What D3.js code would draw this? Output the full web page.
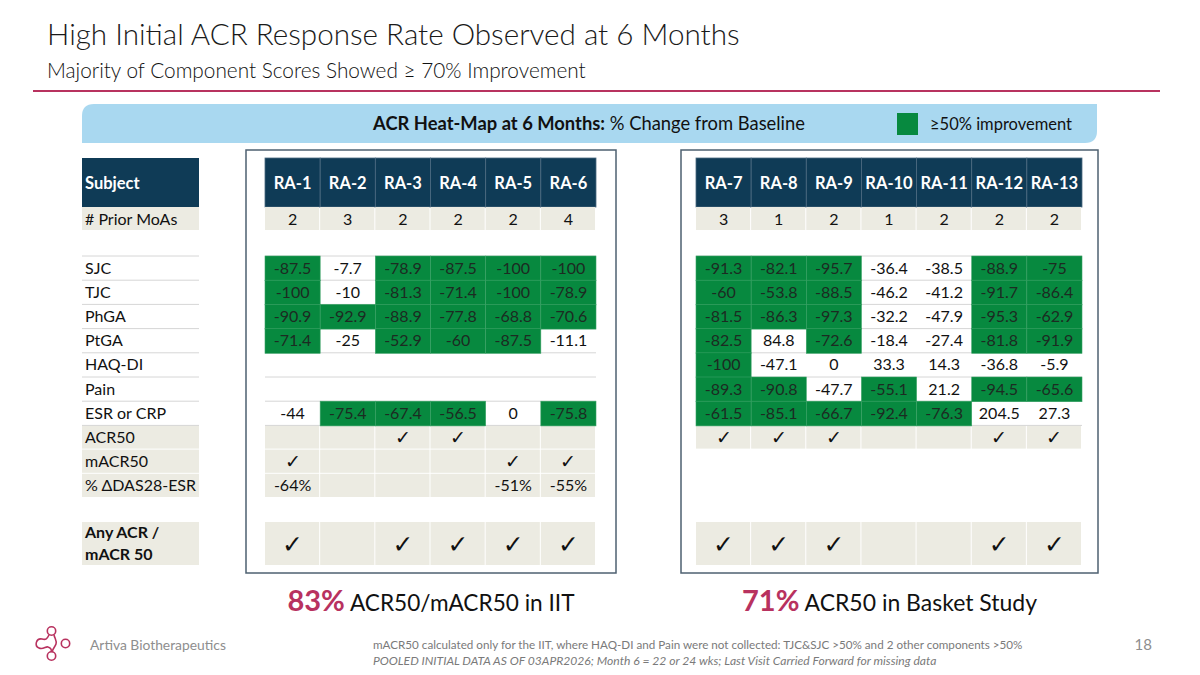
<!DOCTYPE html>
<html>
<head>
<meta charset="utf-8">
<script src="https://cdn.jsdelivr.net/npm/d3@7/dist/d3.min.js"></script>
<style>
  body { margin: 0; background: #fff; }
  svg { display: block; font-family: Lato, "Open Sans", sans-serif; }
</style>
</head>
<body>
<div id="chart"></div>
<script>
// ---- data ----
var subjectsIIT = ["RA-1", "RA-2", "RA-3", "RA-4", "RA-5", "RA-6"];
var subjectsBasket = ["RA-7", "RA-8", "RA-9", "RA-10", "RA-11", "RA-12", "RA-13"];
var priorIIT = [2, 3, 2, 2, 2, 4];
var priorBasket = [3, 1, 2, 1, 2, 2, 2];

var components = ["SJC", "TJC", "PhGA", "PtGA", "HAQ-DI", "Pain", "ESR or CRP"];

// % change from baseline, one row per component (null = not collected)
var changeIIT = [
    [-87.5, -7.7, -78.9, -87.5, -100, -100],
    [-100, -10, -81.3, -71.4, -100, -78.9],
    [-90.9, -92.9, -88.9, -77.8, -68.8, -70.6],
    [-71.4, -25, -52.9, -60, -87.5, -11.1],
    [null, null, null, null, null, null],
    [null, null, null, null, null, null],
    [-44, -75.4, -67.4, -56.5, 0, -75.8]
];
var changeBasket = [
    [-91.3, -82.1, -95.7, -36.4, -38.5, -88.9, -75],
    [-60, -53.8, -88.5, -46.2, -41.2, -91.7, -86.4],
    [-81.5, -86.3, -97.3, -32.2, -47.9, -95.3, -62.9],
    [-82.5, 84.8, -72.6, -18.4, -27.4, -81.8, -91.9],
    [-100, -47.1, 0, 33.3, 14.3, -36.8, -5.9],
    [-89.3, -90.8, -47.7, -55.1, 21.2, -94.5, -65.6],
    [-61.5, -85.1, -66.7, -92.4, -76.3, 204.5, 27.3]
];

var acr50IIT = [0, 0, 1, 1, 0, 0];
var macr50IIT = [1, 0, 0, 0, 1, 1];
var dasIIT = ["-64%", "", "", "", "-51%", "-55%"];
var anyIIT = [1, 0, 1, 1, 1, 1];

var acr50Basket = [1, 1, 1, 0, 0, 1, 1];
var anyBasket = [1, 1, 1, 0, 0, 1, 1];

var improvementCut = -50;

// ---- page ----
var width = 1200, height = 675;
var navy = "#0f3b56", beige = "#ecebe2", green = "#07893f", rose = "#b8325f";
var cellFont = 16;

var svg = d3.select("#chart").append("svg")
    .attr("width", width)
    .attr("height", height);

// scale a text's font size so it spans a given width
function fitWidth(sel, w) {
    var cur = sel.node().getComputedTextLength();
    var fs = parseFloat(sel.attr("font-size"));
    sel.attr("font-size", (fs * w / cur).toFixed(2));
}

// title block
var title = svg.append("text")
    .attr("x", 47).attr("y", 45)
    .attr("font-size", 30).attr("font-weight", 300)
    .attr("fill", "#1a1a1a")
    .text("High Initial ACR Response Rate Observed at 6 Months");
fitWidth(title, 693);

var subtitle = svg.append("text")
    .attr("x", 47).attr("y", 78)
    .attr("font-size", 20).attr("font-weight", 300)
    .attr("fill", "#111")
    .text("Majority of Component Scores Showed \u2265 70% Improvement");
fitWidth(subtitle, 539);

svg.append("line")
    .attr("x1", 33).attr("x2", 1160)
    .attr("y1", 91).attr("y2", 91)
    .attr("stroke", rose).attr("stroke-width", 2);

// banner with two rounded corners
var bx0 = 82, bx1 = 1097, by0 = 104, by1 = 143, br = 12;
svg.append("path")
    .attr("d", "M" + (bx0 + br) + "," + by0 + " L" + bx1 + "," + by0 + " L" + bx1 + "," + (by1 - br) +
        " Q" + bx1 + "," + by1 + " " + (bx1 - br) + "," + by1 + " L" + bx0 + "," + by1 +
        " L" + bx0 + "," + (by0 + br) + " Q" + bx0 + "," + by0 + " " + (bx0 + br) + "," + by0 + " Z")
    .attr("fill", "#a9d8f0");

var banner = svg.append("text")
    .attr("x", 589).attr("y", 130)
    .attr("text-anchor", "middle")
    .attr("font-size", 17).attr("fill", "#111");
banner.append("tspan").attr("font-weight", "bold").text("ACR Heat-Map at 6 Months:");
banner.append("tspan").text(" % Change from Baseline");
fitWidth(banner, 432);

svg.append("rect")
    .attr("x", 897).attr("y", 113).attr("width", 21).attr("height", 22)
    .attr("fill", green);
var legendText = svg.append("text")
    .attr("x", 930).attr("y", 129.5)
    .attr("font-size", 15).attr("fill", "#111")
    .text("\u226550% improvement");
fitWidth(legendText, 142);

// ---- row layout ----
var rowKeys = ["header", "prior", "gap1"].concat(components, ["acr50", "macr50", "das", "gap2", "any"]);
var rowHeight = function (k) {
    if (k === "header") return 49;
    if (k === "gap1") return 25;
    if (k === "gap2") return 24;
    if (k === "any") return 44;
    if (k === "prior") return 24;
    return 24.2;
};
var rowTop = {};
var yy = 158;
rowKeys.forEach(function (k) { rowTop[k] = yy; yy += rowHeight(k); });
var rowMid = function (k) { return rowTop[k] + rowHeight(k) / 2; };

// ---- label column ----
var labels = svg.append("g");
var lx0 = 82, lx1 = 199;
labels.append("rect").attr("x", lx0).attr("y", rowTop.header)
    .attr("width", lx1 - lx0).attr("height", rowHeight("header")).attr("fill", navy);
labels.append("text").attr("x", lx0 + 3).attr("y", rowMid("header") + 6)
    .attr("font-size", 16.5).attr("font-weight", "bold").attr("fill", "#fff").text("Subject");

["prior", "acr50", "macr50", "das", "any"].forEach(function (k) {
    labels.append("rect").attr("x", lx0).attr("y", rowTop[k])
        .attr("width", lx1 - lx0).attr("height", rowHeight(k) - 1).attr("fill", beige);
});
labels.append("line").attr("x1", lx0).attr("x2", lx1)
    .attr("y1", rowTop[components[0]]).attr("y2", rowTop[components[0]])
    .attr("stroke", "#d6d6d6");
components.forEach(function (c) {
    var yb = rowTop[c] + rowHeight(c);
    labels.append("line").attr("x1", lx0).attr("x2", lx1)
        .attr("y1", yb).attr("y2", yb).attr("stroke", "#d6d6d6");
});

var labelText = [["prior", "# Prior MoAs"], ["acr50", "ACR50"], ["macr50", "mACR50"], ["das", "% \u0394DAS28-ESR"]]
    .concat(components.map(function (c) { return [c, c]; }));
labelText.forEach(function (d) {
    labels.append("text").attr("x", lx0 + 3).attr("y", rowMid(d[0]) + 5.5)
        .attr("font-size", cellFont).attr("fill", "#111").text(d[1]);
});
labels.append("text").attr("x", lx0 + 3).attr("y", rowTop.any + 16)
    .attr("font-size", cellFont).attr("font-weight", "bold").attr("fill", "#111").text("Any ACR /");
labels.append("text").attr("x", lx0 + 3).attr("y", rowTop.any + 38)
    .attr("font-size", cellFont).attr("font-weight", "bold").attr("fill", "#111").text("mACR 50");

// ---- one study panel ----
function drawPanel(opt) {
    var g = svg.append("g");
    var x = d3.scaleBand().domain(opt.subjects).range(opt.range);
    var bw = x.bandwidth();

    g.append("rect")
        .attr("x", opt.frame[0]).attr("y", 150)
        .attr("width", opt.frame[1] - opt.frame[0]).attr("height", 423)
        .attr("fill", "#fff").attr("stroke", "#4e6070").attr("stroke-width", 1.5);

    // header
    g.selectAll(".hdr").data(opt.subjects).enter().append("rect")
        .attr("x", function (d) { return x(d); }).attr("y", rowTop.header)
        .attr("width", bw).attr("height", rowHeight("header"))
        .attr("fill", navy).attr("stroke", "#4c6a80").attr("stroke-width", 0.8);
    g.selectAll(".hdrt").data(opt.subjects).enter().append("text")
        .attr("x", function (d) { return x(d) + bw / 2; }).attr("y", rowMid("header") + 6)
        .attr("text-anchor", "middle").attr("font-size", 16.5).attr("font-weight", "bold")
        .attr("fill", "#fff").text(function (d) { return d; });

    // beige rows
    opt.beigeRows.forEach(function (k) {
        g.selectAll(".b" + k).data(opt.subjects).enter().append("rect")
            .attr("x", function (d) { return x(d); }).attr("y", rowTop[k])
            .attr("width", bw - 1).attr("height", rowHeight(k) - 1)
            .attr("fill", beige);
    });
    g.selectAll(".prior").data(opt.prior).enter().append("text")
        .attr("x", function (d, i) { return x(opt.subjects[i]) + bw / 2; })
        .attr("y", rowMid("prior") + 5.5)
        .attr("text-anchor", "middle").attr("font-size", cellFont).attr("fill", "#111")
        .text(function (d) { return d; });

    // component heat-map rows
    var x0 = opt.range[0], x1 = opt.range[1];
    g.append("line").attr("x1", x0).attr("x2", x1)
        .attr("y1", rowTop[components[0]]).attr("y2", rowTop[components[0]])
        .attr("stroke", "#d6d6d6");
    components.forEach(function (c, ci) {
        var row = opt.changes[ci];
        var yb = rowTop[c] + rowHeight(c);
        g.append("line").attr("x1", x0).attr("x2", x1)
            .attr("y1", yb).attr("y2", yb).attr("stroke", "#d6d6d6");
        row.forEach(function (v, i) {
            if (v === null) return;
            var cx = x(opt.subjects[i]);
            if (v <= improvementCut) {
                g.append("rect")
                    .attr("x", cx).attr("y", rowTop[c])
                    .attr("width", bw).attr("height", rowHeight(c) + 0.5)
                    .attr("fill", green).attr("stroke", "#3aa266").attr("stroke-width", 0.6);
            }
            g.append("text")
                .attr("x", cx + bw / 2).attr("y", rowMid(c) + 5.5)
                .attr("text-anchor", "middle").attr("font-size", cellFont)
                .attr("fill", v <= improvementCut ? "#1c2b22" : "#111")
                .text(v);
        });
    });

    // check rows
    opt.checks.forEach(function (ch) {
        ch.values.forEach(function (v, i) {
            if (!v) return;
            g.append("text")
                .attr("x", x(opt.subjects[i]) + bw / 2)
                .attr("y", rowMid(ch.key) + (ch.key === "any" ? 9 : 6.5))
                .attr("text-anchor", "middle")
                .attr("font-family", "DejaVu Sans")
                .attr("font-size", ch.key === "any" ? 25 : 19)
                .attr("font-weight", ch.key === "any" ? "normal" : 300)
                .attr("fill", "#111")
                .text("\u2713");
        });
    });
    if (opt.das) {
        opt.das.forEach(function (v, i) {
            g.append("text")
                .attr("x", x(opt.subjects[i]) + bw / 2).attr("y", rowMid("das") + 5.5)
                .attr("text-anchor", "middle").attr("font-size", cellFont).attr("fill", "#111")
                .text(v);
        });
    }

    // summary line below the frame
    var s = g.append("text")
        .attr("x", (opt.frame[0] + opt.frame[1]) / 2).attr("y", 611)
        .attr("text-anchor", "middle").attr("font-size", 23).attr("fill", "#111");
    s.append("tspan").attr("font-size", 29).attr("font-weight", "bold").attr("fill", rose).text(opt.rate);
    s.append("tspan").text(" " + opt.rateLabel);
    fitWidth(s, opt.rateWidth);
}

drawPanel({
    subjects: subjectsIIT, range: [265, 596], frame: [246, 616],
    prior: priorIIT, changes: changeIIT,
    beigeRows: ["prior", "acr50", "macr50", "das", "any"],
    checks: [{key: "acr50", values: acr50IIT}, {key: "macr50", values: macr50IIT}, {key: "any", values: anyIIT}],
    das: dasIIT,
    rate: "83%", rateLabel: "ACR50/mACR50 in IIT", rateWidth: 286
});
drawPanel({
    subjects: subjectsBasket, range: [696, 1082], frame: [681, 1098],
    prior: priorBasket, changes: changeBasket,
    beigeRows: ["prior", "acr50", "any"],
    checks: [{key: "acr50", values: acr50Basket}, {key: "any", values: anyBasket}],
    das: null,
    rate: "71%", rateLabel: "ACR50 in Basket Study", rateWidth: 295
});

// ---- footer ----
var logo = svg.append("g")
    .attr("fill", "none").attr("stroke", rose).attr("stroke-width", 1.6);
logo.append("circle").attr("cx", 51.5).attr("cy", 631).attr("r", 4.2);
logo.append("circle").attr("cx", 65.5).attr("cy", 643.5).attr("r", 4.2);
logo.append("circle").attr("cx", 51.5).attr("cy", 656).attr("r", 4.2);
logo.append("path")
    .attr("d", "M49,635 C47,639 46,640 42,639 C36,638 34,646 39,648 C43,650 46,646 48,647 C51,648 52,650 51,652" +
        " M54,635 C55,639 57,641 56,644 C55,647 53,648 52,652");

var brand = svg.append("text")
    .attr("x", 90).attr("y", 650)
    .attr("font-size", 15).attr("fill", "#8e8e8e")
    .text("Artiva Biotherapeutics");
fitWidth(brand, 136);

var foot1 = svg.append("text")
    .attr("x", 373).attr("y", 649)
    .attr("font-size", 11.5).attr("fill", "#7a7a7a")
    .text("mACR50 calculated only for the IIT, where HAQ-DI and Pain were not collected: TJC&SJC >50% and 2 other components >50%");
fitWidth(foot1, 650);
var foot2 = svg.append("text")
    .attr("x", 373).attr("y", 665)
    .attr("font-size", 11.5).attr("font-style", "italic").attr("fill", "#7a7a7a")
    .text("POOLED INITIAL DATA AS OF 03APR2026; Month 6 = 22 or 24 wks; Last Visit Carried Forward for missing data");
fitWidth(foot2, 564);

svg.append("text")
    .attr("x", 1152).attr("y", 650)
    .attr("text-anchor", "end")
    .attr("font-size", 15).attr("fill", "#8e8e8e")
    .text("18");
</script>
</body>
</html>
